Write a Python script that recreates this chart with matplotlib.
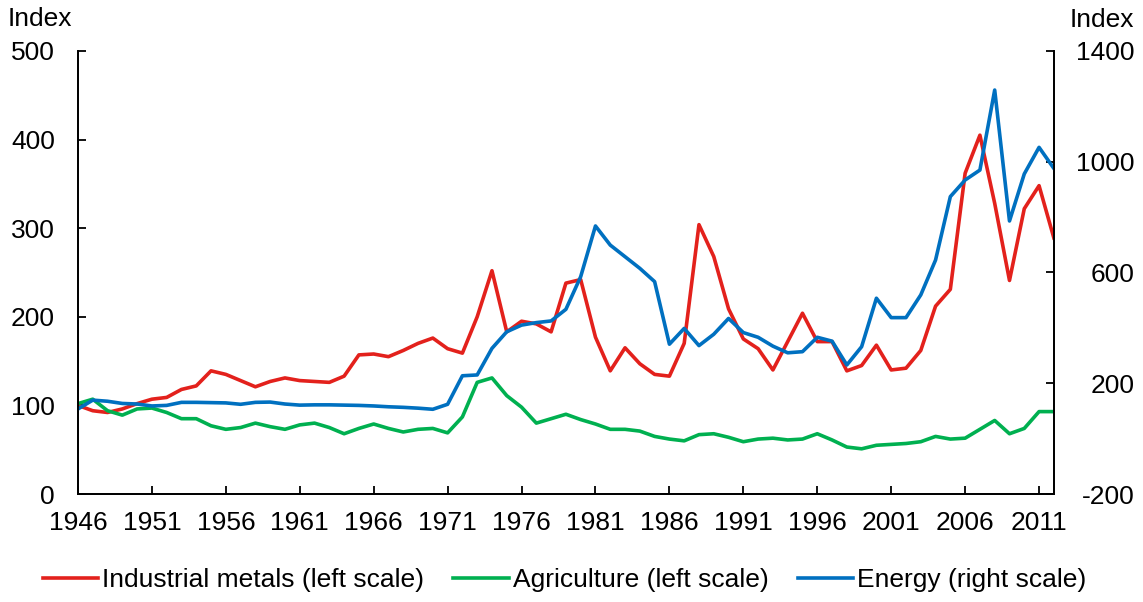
import matplotlib
matplotlib.use("Agg")
import matplotlib.pyplot as plt
import numpy as np

plt.rcParams['font.family'] = ['Liberation Sans', 'DejaVu Sans']
plt.rcParams['axes.unicode_minus'] = False

years = np.arange(1946, 2013)

metals = [100, 94, 92, 96, 102, 107, 109, 118, 122, 139, 135, 128, 121, 127, 131,
          128, 127, 126, 133, 157, 158, 155, 162, 170, 176, 164, 159, 200, 252, 183,
          195, 192, 183, 238, 242, 177, 139, 165, 147, 135, 133, 170, 304, 268, 209,
          175, 164, 140, 172, 204, 172, 172, 139, 145, 168, 140, 142, 162, 212, 231,
          362, 405, 328, 241, 322, 348, 289]

agriculture = [102, 107, 94, 89, 96, 97, 92, 85, 85, 77, 73, 75, 80, 76, 73,
               78, 80, 75, 68, 74, 79, 74, 70, 73, 74, 69, 87, 126, 131, 111,
               98, 80, 85, 90, 84, 79, 73, 73, 71, 65, 62, 60, 67, 68, 64,
               59, 62, 63, 61, 62, 68, 61, 53, 51, 55, 56, 57, 59, 65, 62,
               63, 73, 83, 68, 74, 93, 93]

energy = [107, 139, 135, 127, 125, 118, 120, 131, 131, 130, 129, 124, 131, 132, 125,
          121, 122, 122, 121, 120, 118, 115, 113, 110, 106, 124, 227, 230, 326, 386,
          410, 419, 425, 467, 585, 768, 699, 657, 615, 567, 341, 398, 336, 377, 434,
          383, 366, 334, 310, 314, 366, 352, 266, 332, 507, 437, 437, 519, 645, 874,
          934, 970, 1259, 786, 956, 1052, 976]

xtick_years = np.arange(1946, 2012, 5)

RED = '#E3211C'
GREEN = '#00B050'
BLUE = '#0070C0'
FS = 19

fig = plt.figure(figsize=(11.43, 6.02), dpi=100)
ax = fig.add_axes([0.0682, 0.1794, 0.8538, 0.7359])
ax2 = ax.twinx()

l1, = ax.plot(years, metals, color=RED, lw=2.6, label='Industrial metals (left scale)')
l2, = ax.plot(years, agriculture, color=GREEN, lw=2.6, label='Agriculture (left scale)')
l3, = ax2.plot(years, energy, color=BLUE, lw=2.6, label='Energy (right scale)')

ax.set_xlim(1946, 2012)
ax.set_ylim(0, 500)
ax2.set_ylim(-200, 1400)
ax.set_yticks(np.arange(0, 501, 100))
ax2.set_yticks(np.arange(-200, 1401, 400))
ax.set_xticks(xtick_years)
ax.set_xticklabels([str(y) for y in xtick_years])

for a in (ax, ax2):
    a.spines['top'].set_visible(False)
    for s in a.spines.values():
        s.set_linewidth(1.3)

ax.tick_params(axis='y', direction='in', length=6, width=1.3, labelsize=FS, pad=16.5)
ax.tick_params(axis='x', direction='in', length=6, width=1.3, labelsize=FS, pad=12)
ax2.tick_params(axis='y', direction='in', length=6, width=1.3, labelsize=FS, pad=58)
for t in ax2.get_yticklabels():
    t.set_horizontalalignment('right')

fig.text(0.007, 0.969, 'Index', fontsize=FS, ha='left', va='center')
fig.text(0.936, 0.966, 'Index', fontsize=FS, ha='left', va='center')

fig.legend(handles=[l1, l2, l3], loc='center', bbox_to_anchor=(0.494, 0.036),
           ncol=3, frameon=False, fontsize=FS, handlelength=2.1,
           handletextpad=0.15, columnspacing=1.1)

fig.savefig('out.png', dpi=100)
